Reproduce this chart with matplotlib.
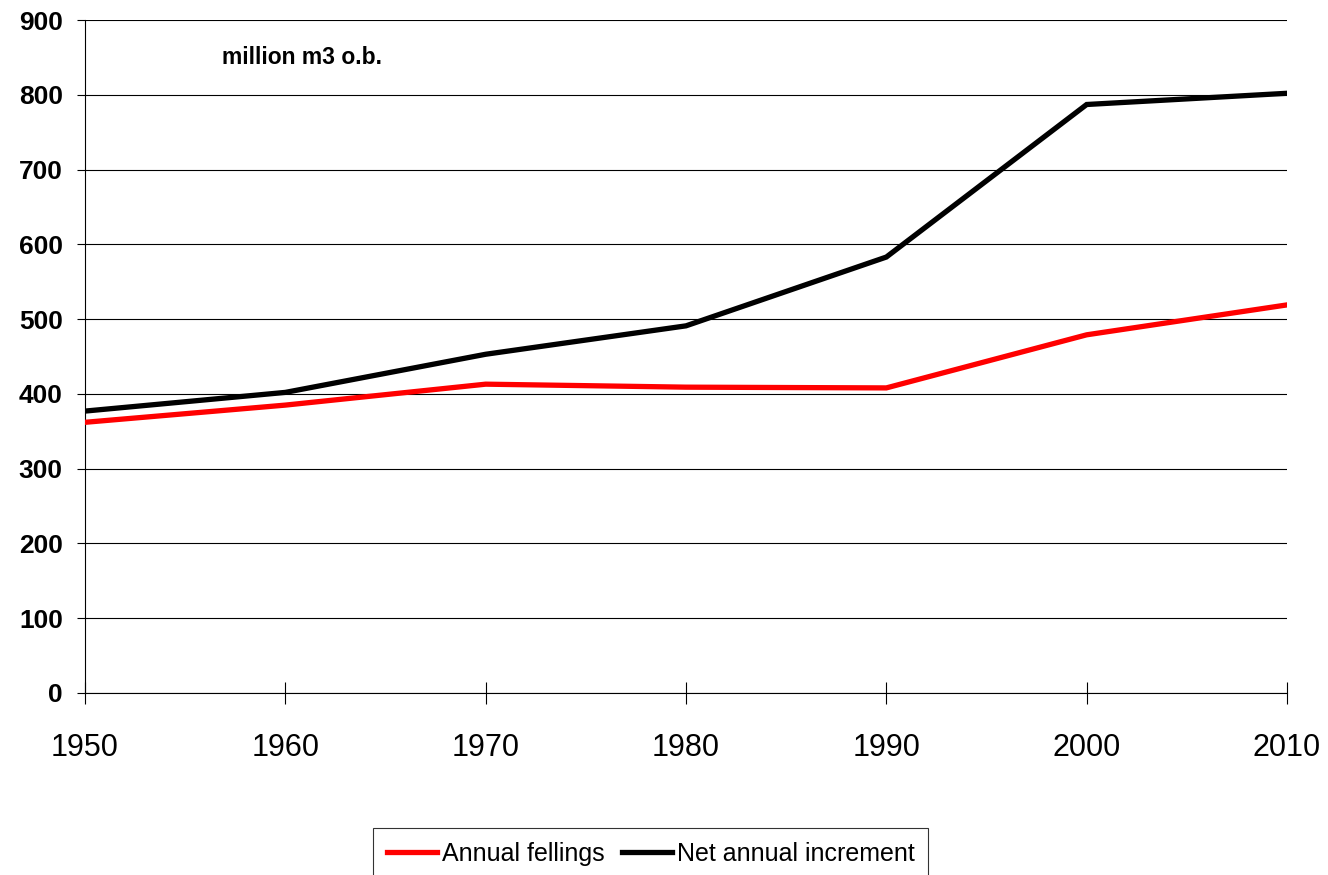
import matplotlib
matplotlib.use("Agg")
import matplotlib.pyplot as plt

years = [1950, 1960, 1970, 1980, 1990, 2000, 2010]
annual_fellings = [362, 385, 413, 409, 408, 479, 519]
net_increment = [377, 402, 453, 491, 583, 787, 802]
y_ticks = list(range(0, 1000, 100))

plt.rcParams["font.family"] = ["Liberation Sans", "DejaVu Sans"]

fig = plt.figure(figsize=(13.28, 8.75), dpi=100)
ax = fig.add_axes([85 / 1328, 182 / 875, 1202 / 1328, 673 / 875])

ax.plot(years, annual_fellings, color="#ff0000", linewidth=3.8,
        solid_joinstyle="miter", label="Annual fellings", zorder=3)
ax.plot(years, net_increment, color="black", linewidth=3.8,
        solid_joinstyle="miter", label="Net annual increment", zorder=3)

ax.set_xlim(1950, 2010)
ax.set_ylim(0, 900)
ax.set_xticks(years)
ax.set_yticks(y_ticks)
ax.yaxis.grid(True, color="black", linewidth=0.8)
ax.set_axisbelow(True)

for side in ("top", "right"):
    ax.spines[side].set_visible(False)
for side in ("left", "bottom"):
    ax.spines[side].set_linewidth(0.8)

ax.tick_params(axis="y", direction="out", length=6, width=0.8, pad=10,
               labelsize=19)
ax.tick_params(axis="x", direction="inout", length=16, width=0.8, pad=21,
               labelsize=22)
for lbl in ax.get_yticklabels():
    lbl.set_fontweight("bold")

ax.text(222 / 1328, 1 - 57 / 875, "million m3 o.b.", transform=fig.transFigure,
        fontsize=16.5, fontweight="bold", va="center", ha="left")

leg = fig.legend(loc="upper left", bbox_to_anchor=(373 / 1328, 47 / 875),
                 borderaxespad=0, ncol=2, frameon=True, fancybox=False,
                 edgecolor="black", handlelength=2.0, handletextpad=0.2,
                 columnspacing=0.7, borderpad=0.55, fontsize=18)
leg.get_frame().set_linewidth(0.8)

fig.savefig("out.png", dpi=100)
